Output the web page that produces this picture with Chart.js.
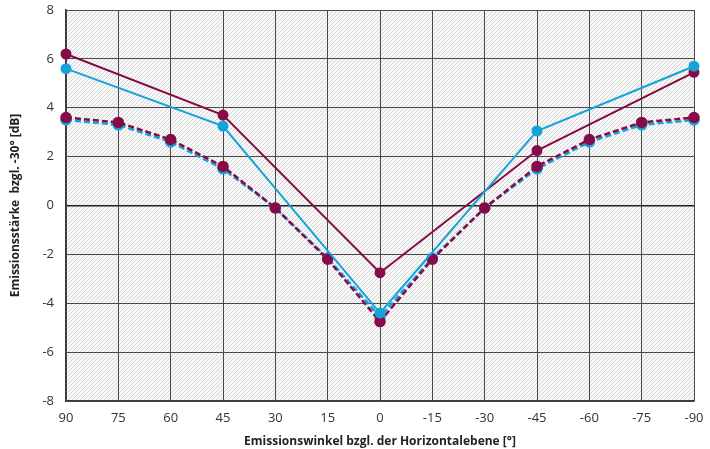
<!DOCTYPE html>
<html>
<head>
<meta charset="utf-8">
<script src="https://cdn.jsdelivr.net/npm/chart.js@4"></script>
<style>
  html, body { margin: 0; padding: 0; background: #fff; }
  #wrap { width: 710px; height: 449px; }
</style>
</head>
<body>
<div id="wrap"><canvas id="chart" width="710" height="449"></canvas></div>
<script>
// angles (x categories)
const angles = ['90', '75', '60', '45', '30', '15', '0', '-15', '-30', '-45', '-60', '-75', '-90']

// solid series only have values at 90/45/0/-45/-90
const maroonSolid = [6.2, null, null, 3.7, null, null, -2.75, null, null, 2.25, null, null, 5.45]
const cyanSolid = [5.6, null, null, 3.25, null, null, -4.4, null, null, 3.05, null, null, 5.7]
const maroonDashed = [3.6, 3.4, 2.7, 1.6, -0.1, -2.2, -4.75, -2.2, -0.1, 1.6, 2.7, 3.4, 3.6]
const cyanDashed = [3.5, 3.3, 2.6, 1.5, -0.1, -2.15, -4.55, -2.15, -0.1, 1.5, 2.6, 3.3, 3.5]

const yTicks = [-8, -6, -4, -2, 0, 2, 4, 6, 8]

const MAROON = '#870b47'
const CYAN = '#14a3d9'
const FONT = "'Open Sans', 'Noto Sans', sans-serif"

// hatched plot background
const hatchBg = {
  id: 'hatchBg',
  beforeDraw(chart) {
    const { ctx, chartArea: a } = chart
    ctx.save()
    ctx.fillStyle = '#f8f8f8'
    ctx.fillRect(a.left, a.top, a.right - a.left, a.bottom - a.top)
    ctx.beginPath()
    ctx.rect(a.left, a.top, a.right - a.left, a.bottom - a.top)
    ctx.clip()
    ctx.strokeStyle = '#d6d6d6'
    ctx.lineWidth = 1
    const h = a.bottom - a.top
    for (let x = a.left - h; x < a.right + h; x += 4) {
      ctx.beginPath()
      ctx.moveTo(x, a.bottom)
      ctx.lineTo(x + h, a.top)
      ctx.stroke()
    }
    ctx.restore()
  }
}

function ds(label, data, color, dashed) {
  return {
    label,
    data,
    borderColor: color,
    backgroundColor: color,
    pointBackgroundColor: color,
    pointBorderColor: color,
    pointRadius: 4.5,
    pointHoverRadius: 4.5,
    borderWidth: dashed ? 2.5 : 2,
    borderDash: dashed ? [6, 3] : [],
    spanGaps: true,
    tension: 0
  }
}

// first dataset is drawn on top
new Chart(document.getElementById('chart'), {
  type: 'line',
  data: {
    labels: angles,
    datasets: [
      ds('cyan solid', cyanSolid, CYAN, false),
      ds('maroon solid', maroonSolid, MAROON, false),
      ds('maroon dashed', maroonDashed, MAROON, true),
      ds('cyan dashed', cyanDashed, CYAN, true)
    ]
  },
  plugins: [hatchBg],
  options: {
    responsive: false,
    animation: false,
    layout: { padding: { top: 10, right: 13, left: 4, bottom: 0 } },
    plugins: { legend: { display: false }, tooltip: { enabled: false } },
    scales: {
      x: {
        offset: false,
        afterFit: axis => { axis.paddingRight = 16 },
        grid: { color: '#4a4a4a', lineWidth: 1, drawTicks: false },
        border: { color: '#3a3a3a', width: 1.5 },
        ticks: { color: '#333', padding: 9, maxRotation: 0, autoSkip: false, font: { family: FONT, size: 13 } },
        title: { display: true, text: 'Emissionswinkel bzgl. der Horizontalebene [°]', color: '#222', padding: { top: 0, bottom: 0 }, font: { family: FONT, size: 12, weight: 'bold' } }
      },
      y: {
        min: -8,
        max: 8,
        afterBuildTicks: axis => { axis.ticks = yTicks.map(v => ({ value: v })) },
        afterFit: axis => { axis.width = 62; axis.paddingTop = 0; axis.paddingBottom = 0 },
        grid: {
          color: c => c.tick && c.tick.value === 0 ? '#222' : '#4a4a4a',
          lineWidth: c => c.tick && c.tick.value === 0 ? 1.5 : 1,
          drawTicks: false
        },
        border: { color: '#3a3a3a', width: 1.5 },
        ticks: { color: '#333', padding: 12, font: { family: FONT, size: 13 } },
        title: { display: true, text: 'Emissionsstärke  bzgl. -30° [dB]', color: '#222', padding: { bottom: 4 }, font: { family: FONT, size: 12, weight: 'bold' } }
      }
    }
  }
})
</script>
</body>
</html>
